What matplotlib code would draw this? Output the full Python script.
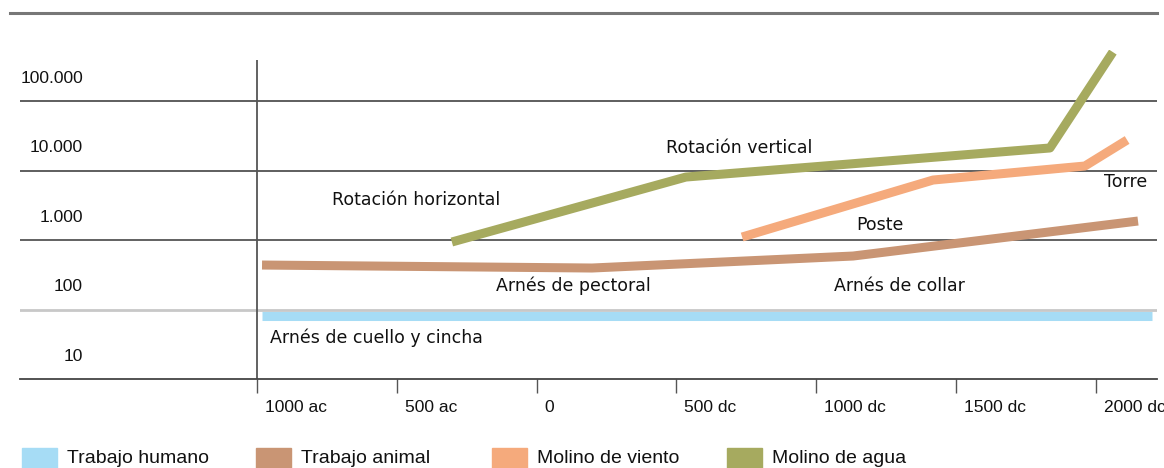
"""Energy from human, animal, wind and water power over time (log scale)
"""
import matplotlib.pyplot as plt
import matplotlib.transforms as mtrans
from matplotlib.patches import Rectangle
from matplotlib.lines import Line2D

################################################################################
# values
human_years = [-982, 2201]
human_vals = [25.5, 25.5]

animal_years = [-982, 198, 1132, 2151]
animal_vals = [138, 125, 186, 593]

wind_years = [735, 1418, 1961, 2112]
wind_vals = [349, 2307, 3670, 8690]

water_years = [-303, 534, 1836, 2061]
water_vals = [296, 2547, 6670, 160000]

series_names = ["Trabajo humano", "Trabajo animal", "Molino de viento", "Molino de agua"]
series_colors = ["#a6dcf5", "#c99574", "#f5aa7c", "#a6aa5f"]

x_ticks = [-1000, -500, 0, 500, 1000, 1500, 2000]
x_labels = ["1000 ac", "500 ac", "0", "500 dc", "1000 dc", "1500 dc", "2000 dc"]

y_labels = ["10", "100", "1.000", "10.000", "100.000"]
y_label_vals = [10 ** (k + 0.83) for k in range(5)]
grid_vals = [10 ** (k + 0.5) for k in range(5)]

annotations = [
    ("Rotación horizontal", -732, 1190),
    ("Rotación vertical", 463, 6670),
    ("Torre", 2029, 2160),
    ("Poste", 1142, 520),
    ("Arnés de pectoral", -145, 69),
    ("Arnés de collar", 1064, 69),
    ("Arnés de cuello y cincha", -954, 12.3),
]
################################################################################

W, H = 1164, 468
fig = plt.figure(figsize=(W / 100, H / 100), dpi=100)
ax = fig.add_axes([20 / W, (H - 379) / H, 1137 / W, 329 / H])

ax.set_yscale("log")
ax.set_xlim(-1847.6, 2218.9)
ax.set_ylim(10 ** 0.5, 10 ** 5.234)

# grid lines (the one between 10 and 100 is lighter)
for i, g in enumerate(grid_vals):
    if i == 0:
        continue
    if i == 1:
        ax.axhline(g, color="#c8c8c8", lw=2, zorder=1)
    elif i == 2:
        ax.axhline(g, color="#555555", lw=1.3, zorder=1)
    else:
        ax.axhline(g, color="#333333", lw=1.1, zorder=1)

# vertical axis
ax.vlines(-1000, 10 ** 0.5, 10 ** 5.09, color="#555555", lw=1.3, zorder=1)

lw = 6.5
ax.plot(human_years, human_vals, color=series_colors[0], lw=lw, solid_capstyle="butt", zorder=3)
ax.plot(animal_years, animal_vals, color=series_colors[1], lw=lw, solid_capstyle="butt", zorder=3)
ax.plot(wind_years, wind_vals, color=series_colors[2], lw=lw, solid_capstyle="butt", zorder=3)
ax.plot(water_years, water_vals, color=series_colors[3], lw=lw, solid_capstyle="butt", zorder=3)

for text, x, y in annotations:
    ax.text(x, y, text, fontsize=12.5, family="DejaVu Sans", ha="left", va="center", color="#111111")

# y labels sit inside the bands
for lab, v in zip(y_labels, y_label_vals):
    ax.text(63 / 1137, v, lab, transform=ax.get_yaxis_transform(), ha="right", va="center",
            fontsize=12.5, family="Liberation Sans", color="#111111")

for s in ["top", "left", "right"]:
    ax.spines[s].set_visible(False)
ax.spines["bottom"].set_color("#444444")
ax.spines["bottom"].set_linewidth(1.3)

ax.set_yticks([])
ax.minorticks_off()
ax.set_xticks(x_ticks)
ax.set_xticklabels(x_labels, fontsize=12.5, family="Liberation Sans", ha="left", color="#111111")
ax.tick_params(axis="x", direction="out", length=10, width=1, color="#555555", pad=5)
offset = mtrans.ScaledTranslation(8 / 100, 0, fig.dpi_scale_trans)
for lbl in ax.get_xticklabels():
    lbl.set_transform(lbl.get_transform() + offset)

# top rule
fig.add_artist(Line2D([10 / W, 1157 / W], [1 - 13 / H, 1 - 13 / H], color="#777777", lw=2.2))

# legend along the bottom edge
patch_x = [22, 256, 492, 727]
text_x = [67, 301, 537, 772]
for name, col, px, tx in zip(series_names, series_colors, patch_x, text_x):
    fig.add_artist(Rectangle((px / W, 0), 35 / W, 20 / H, color=col, transform=fig.transFigure))
    fig.text(tx / W, 1 - 450 / H, name, fontsize=14, family="Liberation Sans", va="top", ha="left",
             color="#111111")

fig.savefig("out.png", dpi=100)
